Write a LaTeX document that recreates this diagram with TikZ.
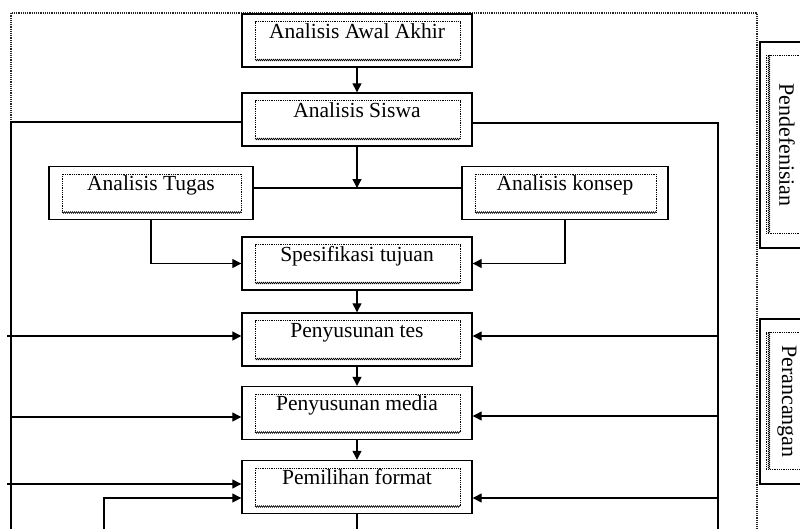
\documentclass[tikz,border=0pt]{standalone}
\usepackage{fontspec}
\setmainfont{Liberation Serif}
\usepackage{graphicx}
\usepackage{tikz}
\usetikzlibrary{arrows.meta,decorations.pathmorphing}
\tikzset{
  dalam/.style={densely dotted, line width=0.8pt},
  gerigi/.style={line width=0.5pt, decorate, decoration={zigzag, segment length=2pt, amplitude=0.9pt}},
  tahap/.style={draw, line width=1.4pt, fill=white, minimum width=230pt, minimum height=53pt, inner sep=0pt,
    text height=14pt, text depth=19pt, font=\fontsize{21.5}{25}\selectfont,
    path picture={
      \coordinate (bk) at ([shift={(13pt,7pt)}]path picture bounding box.south west);
      \coordinate (ak) at ([shift={(-12pt,-7.5pt)}]path picture bounding box.north east);
      \draw[dalam] (bk) |- (ak) -- (ak |- bk);
      \draw[gerigi] (bk) -- (ak |- bk);}},
  panel/.style={draw, line width=1.4pt, fill=white, minimum width=54pt, inner sep=0pt,
    font=\fontsize{22}{26}\selectfont,
    path picture={
      \coordinate (ka) at ([shift={(6pt,-13pt)}]path picture bounding box.north west);
      \coordinate (kb) at ([shift={(20pt,15pt)}]path picture bounding box.south east);
      \draw[dalam] (ka) -| (kb) -| cycle;
      \draw[gerigi] ([xshift=3pt]ka) -- ([xshift=3pt]ka |- kb);}},
  garis/.style={line width=1.3pt},
  panah/.style={-{Triangle[length=9pt,width=9pt]}, line width=1.3pt},
  bingkai/.style={densely dotted, line width=1.2pt, draw=black!85},
}
\begin{document}
\begin{tikzpicture}[x=1pt,y=-1pt]
\useasboundingbox (0,0) rectangle (800,528);
\clip (0,0) rectangle (800,528);
% bingkai luar
\draw[bingkai] (11,560) |- (757,13) -- (757,560);

% tahap
\node[tahap] (awal) at (357,40.5) {Analisis Awal Akhir};
\node[tahap] (siswa) at (357,119.5) {Analisis Siswa};
\node[tahap, minimum width=204pt] (tugas) at (151,193) {Analisis Tugas};
\node[tahap, minimum width=206pt] (konsep) at (565,193) {Analisis konsep};
\node[tahap] (spes) at (357,263.5) {Spesifikasi tujuan};
\node[tahap] (tes) at (357,339.5) {Penyusunan tes};
\node[tahap] (media) at (357,413) {Penyusunan media};
\node[tahap] (format) at (357,487) {Pemilihan format};

\node[panel, minimum height=206pt] (defin) at (787,145) {\rotatebox{-90}{Pendefenisian}};
\node[panel, minimum height=165pt] (ranc) at (787,401.5) {\rotatebox{-90}{Perancangan}};

\coordinate (cabang) at (357,188);
\coordinate (kiri) at (11,560);
\coordinate (kiri2) at (104,560);
\coordinate (kanan) at (718,560);
\coordinate (bawah) at (357,560);

% alur utama
\draw[panah] (awal) -- (siswa);
\draw[panah] (siswa) -- (cabang);
\draw[garis] (tugas.east |- cabang) -- (konsep.west |- cabang);
\draw[panah] (tugas.south) |- (spes.west);
\draw[panah] (konsep.south) |- (spes.east);
\draw[panah] (spes) -- (tes);
\draw[panah] (tes) -- (media);
\draw[panah] (media) -- (format);
\draw[panah] (format) -- (bawah);

% umpan balik kiri
\draw[garis] ([yshift=-2.5pt]siswa.west) -| (kiri);
\draw[panah] ([xshift=-4pt,yshift=3.5pt]kiri |- tes.west) -- ([yshift=3.5pt]tes.west);
\draw[panah] ([yshift=-4pt]kiri |- media.west) -- ([yshift=-4pt]media.west);
\draw[panah] ([xshift=-4pt,yshift=3pt]kiri |- format.west) -- ([yshift=3pt]format.west);
\draw[panah] (kiri2) |- ([yshift=-11pt]format.west);

% umpan balik kanan
\draw[garis] ([yshift=-3.5pt]siswa.east) -| (kanan);
\draw[panah] ([yshift=3.5pt]kanan |- tes.east) -- ([yshift=3.5pt]tes.east);
\draw[panah] ([yshift=-3pt]kanan |- media.east) -- ([yshift=-3pt]media.east);
\draw[panah] ([yshift=-11pt]kanan |- format.east) -- ([yshift=-11pt]format.east);
\end{tikzpicture}
\end{document}
